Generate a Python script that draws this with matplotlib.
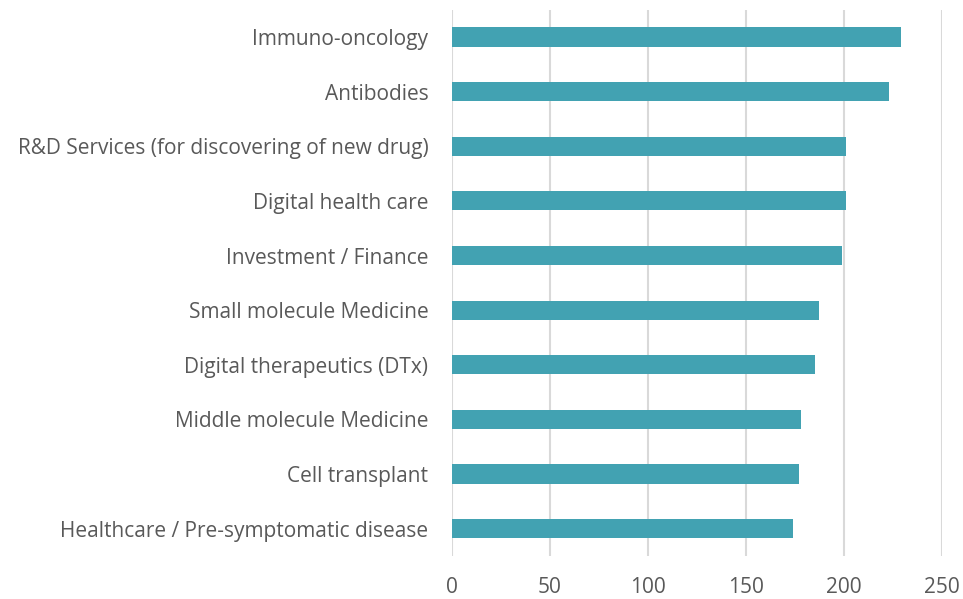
import matplotlib
matplotlib.use("Agg")
import matplotlib.pyplot as plt
import numpy as np

categories = [
    "Immuno-oncology",
    "Antibodies",
    "R&D Services (for discovering of new drug)",
    "Digital health care",
    "Investment / Finance",
    "Small molecule Medicine",
    "Digital therapeutics (DTx)",
    "Middle molecule Medicine",
    "Cell transplant",
    "Healthcare / Pre-symptomatic disease",
]
values = [229, 223, 201, 201, 199, 187, 185, 178, 177, 174]
xticks = [0, 50, 100, 150, 200, 250]

plt.rcParams['font.family'] = ['Open Sans', 'DejaVu Sans']

fig = plt.figure(figsize=(9.63, 5.99), dpi=100)
ax = fig.add_axes([0.4694, 0.0718, 0.5088, 0.912])

y_pos = np.arange(len(categories))[::-1]
ax.barh(y_pos, values, height=0.35, color='#42A2B2', zorder=3)

ax.set_xlim(0, 250)
ax.set_ylim(-0.5, len(categories) - 0.5)
ax.set_xticks(xticks)
ax.set_yticks(y_pos)
ax.set_yticklabels(categories)
ax.grid(axis='x', color='#d9d9d9', linewidth=1.5, zorder=0)
for s in ax.spines.values():
    s.set_visible(False)
ax.tick_params(length=0, labelsize=15, colors='#595959')
ax.tick_params(axis='y', pad=17)
ax.tick_params(axis='x', pad=15)

fig.savefig("out.png", dpi=100)
